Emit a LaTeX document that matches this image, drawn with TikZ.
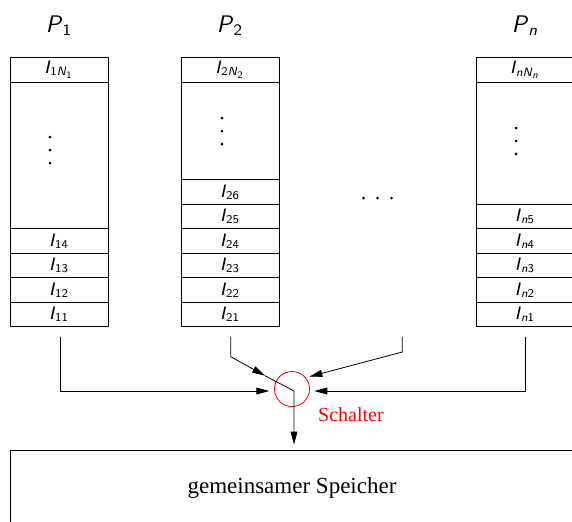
\documentclass[tikz,border=0pt]{standalone}
\usepackage{amsmath}
\usepackage{fontspec}
\setmainfont{Liberation Serif}
\usetikzlibrary{arrows.meta}
\newcommand{\sfi}[1]{\textsf{\textit{#1}}}

\begin{document}
\begin{tikzpicture}[x=0.5pt,y=-0.5pt,line cap=round,line join=round,>={Triangle[length=6.5pt,width=3.4pt]},
    zelle/.style={draw,minimum width=49pt,minimum height=12.25pt,inner sep=0pt,font=\small},
    luecke/.style={draw,minimum width=49pt,minimum height=#1,inner sep=0pt},
    titel/.style={anchor=base,font=\large}]
    \clip (0,0) rectangle (572,521);
    % Prozesse
    \node[titel] (p1) at (59,32) {$\sfi{P}_{\textsf{1}}$};
    \node[titel] (p2) at (230,32) {$\sfi{P}_{\textsf{2}}$};
    \node[titel] (pn) at (525,32) {$\sfi{P}_{\sfi{n}}$};
    % Spalte 1
    \node[zelle] (i1N) at (59,69.75) {$\sfi{I}_{\textsf{1}\sfi{N}_{\textsf{1}}}$};
    \node[luecke=73.375pt] (g1) at (59,155.375) {};
    \node[zelle] (i14) at (59,241) {$\sfi{I}_{\textsf{14}}$};
    \node[zelle] (i13) at (59,265.5) {$\sfi{I}_{\textsf{13}}$};
    \node[zelle] (i12) at (59,290) {$\sfi{I}_{\textsf{12}}$};
    \node[zelle] (i11) at (59,314.5) {$\sfi{I}_{\textsf{11}}$};
    % Spalte 2
    \node[zelle] (i2N) at (230,69.75) {$\sfi{I}_{\textsf{2}\sfi{N}_{\textsf{2}}}$};
    \node[luecke=48.875pt] (g2) at (230,130.875) {};
    \node[zelle] (i26) at (230,192) {$\sfi{I}_{\textsf{26}}$};
    \node[zelle] (i25) at (230,216.5) {$\sfi{I}_{\textsf{25}}$};
    \node[zelle] (i24) at (230,241) {$\sfi{I}_{\textsf{24}}$};
    \node[zelle] (i23) at (230,265.5) {$\sfi{I}_{\textsf{23}}$};
    \node[zelle] (i22) at (230,290) {$\sfi{I}_{\textsf{22}}$};
    \node[zelle] (i21) at (230,314.5) {$\sfi{I}_{\textsf{21}}$};
    % Spalte n
    \node[zelle] (inN) at (525,69.75) {$\sfi{I}_{\sfi{nN}_{\sfi{n}}}$};
    \node[luecke=61.125pt] (gn) at (525,143.125) {};
    \node[zelle] (in5) at (525,216.5) {$\sfi{I}_{\sfi{n}\textsf{5}}$};
    \node[zelle] (in4) at (525,241) {$\sfi{I}_{\sfi{n}\textsf{4}}$};
    \node[zelle] (in3) at (525,265.5) {$\sfi{I}_{\sfi{n}\textsf{3}}$};
    \node[zelle] (in2) at (525,290) {$\sfi{I}_{\sfi{n}\textsf{2}}$};
    \node[zelle] (in1) at (525,314.5) {$\sfi{I}_{\sfi{n}\textsf{1}}$};
    % Punkte
    \foreach \d in {0,1,2} {
      \fill (50,137+13*\d) circle (0.75pt);
      \fill (222,118+13*\d) circle (0.75pt);
      \fill (516,128+13*\d) circle (0.75pt);
      \fill (363.5+14*\d,198) circle (0.75pt);
    }
    % Schalter und Speicher
    \node[draw=red,circle,minimum size=17.5pt,inner sep=0pt] (sw) at (292,389) {};
    \node[red] (sl) at (351,415) {Schalter};
    \node[draw,minimum width=282pt,minimum height=38pt,font=\fontsize{11.5}{14}\selectfont] (sp) at (292,488) {gemeinsamer Speicher};
    \coordinate (s1) at (60,337);
    \coordinate (e1) at (269.3,391);
    \coordinate (s2) at (230.7,337);
    \coordinate (k2) at (230.7,356.7);
    \coordinate (t2) at (265,375.7);
    \coordinate (mitte) at (294,391);
    \coordinate (sd) at (402.3,337);
    \coordinate (kd) at (402.3,352);
    \coordinate (td) at (309.3,376.7);
    \coordinate (sn) at (525,337);
    \coordinate (en) at (314.3,391);
    \draw[->] (s1) |- (e1);
    \draw[->] (s2) -- (k2) -- (t2);
    \draw[->,shorten >=2.5pt] (t2) -- (mitte) -- (mitte |- sp.north);
    \draw[->] (sd) -- (kd) -- (td);
    \draw[->] (sn) |- (en);
\end{tikzpicture}
\end{document}
